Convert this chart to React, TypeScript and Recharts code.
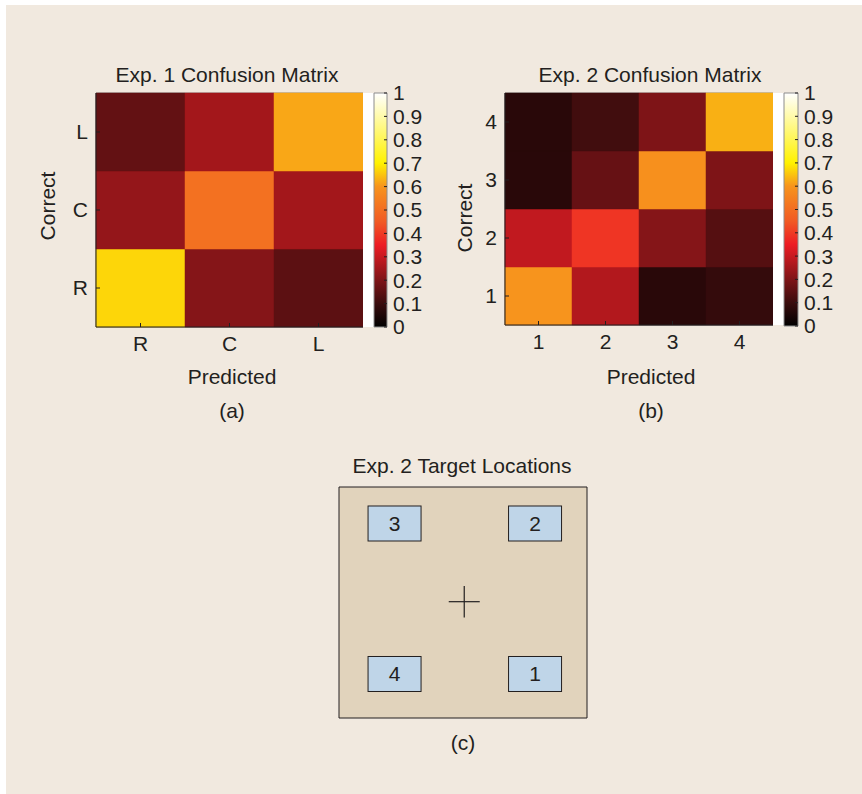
import React from 'react';
import { BarChart, Bar, XAxis, YAxis, Cell, ReferenceArea, ScatterChart, Scatter } from 'recharts';

// ---------- data ----------
const exp1Predicted = ['R', 'C', 'L'];
const exp1Correct = ['R', 'C', 'L']; // bottom -> top
// rows: correct (R, C, L); columns: predicted (R, C, L)
const exp1Matrix = [
  [0.67, 0.21, 0.15],
  [0.23, 0.51, 0.25],
  [0.16, 0.25, 0.62],
];

const exp2Predicted = ['1', '2', '3', '4'];
const exp2Correct = ['1', '2', '3', '4']; // bottom -> top
// rows: correct (1..4); columns: predicted (1..4)
const exp2Matrix = [
  [0.6, 0.27, 0.07, 0.09],
  [0.29, 0.39, 0.21, 0.14],
  [0.07, 0.165, 0.59, 0.2],
  [0.07, 0.11, 0.2, 0.63],
];

const colorbarTicks = [0, 0.1, 0.2, 0.3, 0.4, 0.5, 0.6, 0.7, 0.8, 0.9, 1];

const colormapStops = [
  { v: 0, c: '#000000' },
  { v: 0.1, c: '#3a0c0d' },
  { v: 0.2, c: '#7e1417' },
  { v: 0.35, c: '#ed1c24' },
  { v: 0.45, c: '#f15a24' },
  { v: 0.6, c: '#f7941d' },
  { v: 0.7, c: '#fff200' },
  { v: 1, c: '#ffffff' },
];

// target locations (normalised screen coords, centre = fixation cross)
const targets = [
  { id: '3', x: -0.552, y: 0.684 },
  { id: '2', x: 0.581, y: 0.684 },
  { id: '4', x: -0.552, y: -0.619 },
  { id: '1', x: 0.581, y: -0.619 },
];
const fixation = [{ x: 0.01, y: 0.007 }];

// ---------- styling ----------
const FONT = '"Liberation Sans", Arial, Helvetica, sans-serif';
const INK = '#231f20';
const BG = '#f1e9df';
const TICK_FS = 21;

function hexToRgb(h: string) {
  const n = parseInt(h.slice(1), 16);
  return [(n >> 16) & 255, (n >> 8) & 255, n & 255];
}
function colormap(v: number) {
  const s = colormapStops;
  if (v <= s[0].v) return s[0].c;
  for (let i = 1; i < s.length; i++) {
    if (v <= s[i].v) {
      const t = (v - s[i - 1].v) / (s[i].v - s[i - 1].v);
      const a = hexToRgb(s[i - 1].c);
      const b = hexToRgb(s[i].c);
      const c = a.map((x, k) => Math.round(x + (b[k] - x) * t));
      return `rgb(${c[0]},${c[1]},${c[2]})`;
    }
  }
  return s[s.length - 1].c;
}

const tickStyle = { fill: INK, fontSize: TICK_FS, fontFamily: FONT };
const YW = 50;
const XH = 40;

function Heatmap(props: {
  left: number; top: number; plotW: number; plotH: number;
  predicted: string[]; correct: string[]; matrix: number[][];
}) {
  const { left, top, plotW, plotH, predicted, correct, matrix } = props;
  const data = predicted.map((p) => {
    const row: any = { pred: p };
    correct.forEach((_, i) => { row[`r${i}`] = 1; });
    return row;
  });
  return (
    <div style={{ position: 'absolute', left, top }}>
      <BarChart
        width={YW + plotW + 1}
        height={1 + plotH + XH}
        data={data}
        margin={{ top: 1, right: 1, bottom: 0, left: 0 }}
        barCategoryGap={0}
        barGap={0}
      >
        <XAxis
          dataKey="pred"
          height={XH}
          interval={0}
          tickSize={-4}
          tickMargin={13}
          fontSize={TICK_FS}
          fontFamily={FONT}
          tick={tickStyle}
          axisLine={{ stroke: INK }}
          tickLine={{ stroke: INK }}
        />
        <YAxis
          type="number"
          domain={[0, correct.length]}
          ticks={correct.map((_, i) => i + 0.5)}
          tickFormatter={(v: number) => correct[Math.floor(v)]}
          width={YW}
          interval={0}
          tickSize={-4}
          tickMargin={12}
          fontSize={TICK_FS}
          fontFamily={FONT}
          tick={tickStyle}
          axisLine={{ stroke: INK }}
          tickLine={{ stroke: INK }}
        />
        {correct.map((_, i) => (
          <Bar key={i} dataKey={`r${i}`} stackId="m" isAnimationActive={false}>
            {predicted.map((__, j) => {
              const f = colormap(matrix[i][j]);
              return <Cell key={j} fill={f} stroke={f} strokeWidth={0.5} />;
            })}
          </Bar>
        ))}
        <ReferenceArea y1={0} y2={correct.length} fill="none" stroke="#8a8a8a" ifOverflow="visible" />
      </BarChart>
    </div>
  );
}

function Colorbar(props: { left: number; top: number; plotW: number; plotH: number; gradId: string }) {
  const { left, top, plotW, plotH, gradId } = props;
  const data = [{ name: 'cb', range: [0, 1] }];
  const CBW = 50;
  const PAD = 14;
  return (
    <div style={{ position: 'absolute', left, top: top - PAD }}>
      <BarChart
        width={1 + plotW + CBW}
        height={PAD + plotH + PAD}
        data={data}
        margin={{ top: PAD, right: 0, bottom: PAD, left: 1 }}
        barCategoryGap={0}
      >
        <defs>
          <linearGradient id={gradId} x1="0" y1="1" x2="0" y2="0">
            {colormapStops.map((s, i) => (
              <stop key={i} offset={`${s.v * 100}%`} stopColor={s.c} />
            ))}
          </linearGradient>
        </defs>
        <XAxis dataKey="name" hide />
        <YAxis
          orientation="right"
          type="number"
          domain={[0, 1]}
          ticks={colorbarTicks}
          interval={0}
          width={CBW}
          tickSize={-3}
          tickMargin={9}
          axisLine={false}
          fontSize={TICK_FS}
          fontFamily={FONT}
          tick={tickStyle}
          tickLine={{ stroke: INK }}
        />
        <Bar dataKey="range" fill={`url(#${gradId})`} stroke="#8c8c8c" strokeWidth={1} isAnimationActive={false} />
      </BarChart>
    </div>
  );
}

const TargetBox = (p: any) => {
  const { cx, cy, payload } = p;
  return (
    <g>
      <rect x={cx - 26.5} y={cy - 17.5} width={53} height={35} fill="#bfd5e8" stroke={INK} strokeWidth={1} />
      <text x={cx} y={cy + 7.5} textAnchor="middle" fontSize={21} fontFamily={FONT} fill={INK}>
        {payload.id}
      </text>
    </g>
  );
};

const Cross = (p: any) => {
  const { cx, cy } = p;
  return (
    <g stroke={INK} strokeWidth={1.2}>
      <line x1={cx - 15.5} y1={cy} x2={cx + 15.5} y2={cy} />
      <line x1={cx} y1={cy - 15.8} x2={cx} y2={cy + 15.8} />
    </g>
  );
};

export default function App() {
  const txt = { fontFamily: FONT, fontSize: 21, fill: INK } as any;
  return (
    <div style={{ position: 'absolute', left: 0, top: 0, width: 862, height: 794, background: '#ffffff', overflow: 'hidden' }}>
      <div style={{ position: 'absolute', left: 6, top: 5, width: 856, height: 789, background: BG }} />
      <svg width={862} height={794} style={{ position: 'absolute', left: 0, top: 0 }}>
        <text x={227} y={82} textAnchor="middle" {...txt}>Exp. 1 Confusion Matrix</text>
        <text x={650} y={82} textAnchor="middle" {...txt}>Exp. 2 Confusion Matrix</text>
        <text x={232} y={384} textAnchor="middle" {...txt}>Predicted</text>
        <text x={651} y={384} textAnchor="middle" {...txt}>Predicted</text>
        <text x={232} y={418} textAnchor="middle" {...txt}>(a)</text>
        <text x={651} y={418} textAnchor="middle" {...txt}>(b)</text>
        <text x={0} y={0} textAnchor="middle" transform="translate(55,206) rotate(-90)" {...txt}>Correct</text>
        <text x={0} y={0} textAnchor="middle" transform="translate(472,218) rotate(-90)" {...txt}>Correct</text>
        <text x={462} y={473} textAnchor="middle" {...txt}>Exp. 2 Target Locations</text>
        <text x={463} y={750} textAnchor="middle" {...txt}>(c)</text>
      </svg>

      <Heatmap left={46} top={92} plotW={267} plotH={234} predicted={exp1Predicted} correct={exp1Correct} matrix={exp1Matrix} />
      <div style={{ position: 'absolute', left: 363, top: 93, width: 11, height: 234, background: '#ffffff' }} />
      <Colorbar left={373} top={93} plotW={13} plotH={234} gradId="cmap1" />

      <Heatmap left={455} top={92} plotW={268} plotH={232} predicted={exp2Predicted} correct={exp2Correct} matrix={exp2Matrix} />
      <div style={{ position: 'absolute', left: 773, top: 93, width: 11, height: 232, background: '#ffffff' }} />
      <Colorbar left={783} top={93} plotW={14} plotH={233} gradId="cmap2" />

      <div style={{ position: 'absolute', left: 338, top: 486 }}>
        <ScatterChart width={250} height={233} margin={{ top: 1, right: 1, bottom: 1, left: 1 }}>
          <XAxis type="number" dataKey="x" domain={[-1, 1]} hide />
          <YAxis type="number" dataKey="y" domain={[-1, 1]} hide />
          <ReferenceArea x1={-1} x2={1} y1={-1} y2={1} fill="#e1d3bc" fillOpacity={1} stroke={INK} strokeWidth={1} ifOverflow="visible" />
          <Scatter data={targets} shape={TargetBox} isAnimationActive={false} />
          <Scatter data={fixation} shape={Cross} isAnimationActive={false} />
        </ScatterChart>
      </div>
    </div>
  );
}
